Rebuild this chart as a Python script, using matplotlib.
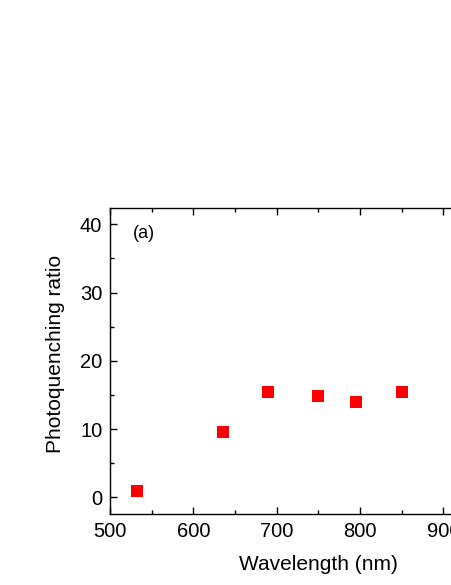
import matplotlib
matplotlib.use("Agg")
import matplotlib.pyplot as plt
from matplotlib.ticker import MultipleLocator

plt.rcParams['font.family'] = ['Liberation Sans', 'DejaVu Sans']

wavelength = [532, 635, 690, 750, 795, 850]
ratio = [0.9, 9.6, 15.5, 14.9, 14.0, 15.4]

fig = plt.figure(figsize=(4.52, 5.85), dpi=100)
ax = fig.add_axes([110/452, 71/585, 416.7/452, 306/585])
ax.plot(wavelength, ratio, linestyle='none', marker='s', markersize=8,
        color='#ff0000', markeredgewidth=0)
ax.set_xlim(500, 1000)
ax.set_ylim(-2.45, 42.4)
ax.xaxis.set_major_locator(MultipleLocator(100))
ax.xaxis.set_minor_locator(MultipleLocator(50))
ax.yaxis.set_major_locator(MultipleLocator(10))
ax.yaxis.set_minor_locator(MultipleLocator(5))
ax.tick_params(which='both', direction='in', top=True, right=True, width=1.0)
ax.tick_params(which='major', length=5, labelsize=14.5)
ax.tick_params(axis='x', which='major', pad=6)
ax.tick_params(axis='y', which='major', pad=5.5)
ax.tick_params(which='minor', length=3)
for s in ax.spines.values():
    s.set_linewidth(1.0)
ax.set_xlabel('Wavelength (nm)', fontsize=15, labelpad=10)
ax.set_ylabel('Photoquenching ratio', fontsize=15)
ax.yaxis.set_label_coords(-0.108, 0.523)
ax.text(0.055, 0.918, '(a)', transform=ax.transAxes, fontsize=13,
        ha='left', va='center')
fig.savefig('out.png', dpi=100)
